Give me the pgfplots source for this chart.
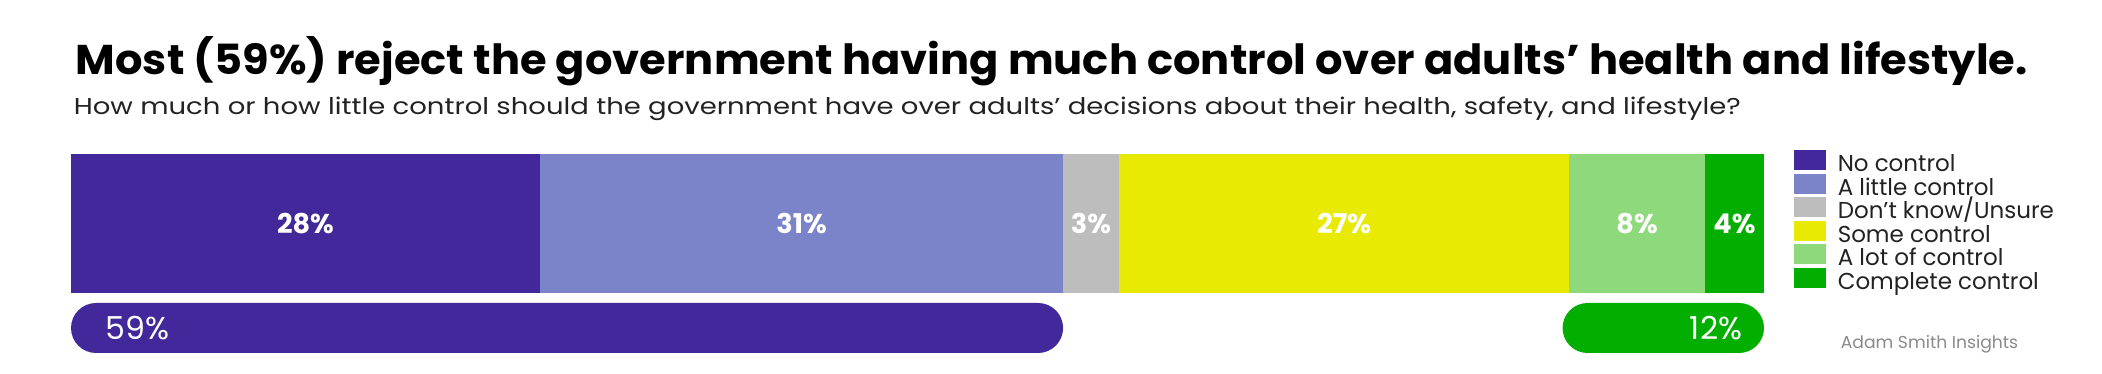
\documentclass[border=0pt]{standalone}
\usepackage{pgfplots}
\pgfplotsset{compat=1.18}
\usepackage{fontspec}
\setmainfont{Poppins}
\usepackage{graphicx}
\definecolor{cNo}{HTML}{43289B}
\definecolor{cLittle}{HTML}{7B84C9}
\definecolor{cDK}{HTML}{BDBDBD}
\definecolor{cSome}{HTML}{E9EA03}
\definecolor{cLot}{HTML}{8ED97B}
\definecolor{cComp}{HTML}{02AF00}
\definecolor{cText}{HTML}{222222}
\definecolor{cGray}{HTML}{8A8A8A}
\newlength\fitlen
\newcommand\fitto[2]{\settowidth{\fitlen}{#2}\pgfmathsetmacro\fitsx{#1/\fitlen}\scalebox{\fitsx}[1]{#2}}
\tikzset{lbl/.style={text=white, font=\fontsize{6.8pt}{8pt}\selectfont\bfseries},
  lbl2/.style={text=white, inner sep=0pt, font=\fontsize{7.9pt}{9pt}\selectfont}}
\begin{document}
\begin{tikzpicture}[x=0.25pt,y=0.25pt]
\path[use as bounding box] (0,0) rectangle (2102,374);
\node[anchor=base west, inner sep=0pt] at (75,299) {\fitto{488pt}{\fontsize{10.4pt}{12pt}\selectfont\bfseries Most (59\%) reject the government having much control over adults’ health and lifestyle.}};
\node[anchor=base west, inner sep=0pt, text=cText] at (73,259) {\fitto{416.75pt}{\fontsize{5.74pt}{7pt}\selectfont How much or how little control should the government have over adults’ decisions about their health, safety, and lifestyle?}};
\begin{axis}[at={(17.75pt,20.25pt)}, anchor=south west, scale only axis,
  width=423.25pt, height=34.75pt, xmin=0, xmax=100, ymin=-0.5, ymax=0.5,
  xbar stacked, bar width=1, hide axis, clip=false,
  legend cell align=left,
  legend image code/.code={\path (0pt,0pt) rectangle (8pt,0.5pt); \fill[#1, overlay] (0pt,-0.9pt) rectangle (8pt,4.1pt);},
  legend style={at={(1.0171,1.0)}, anchor=north west, draw=none, fill=none,
    inner sep=0pt, row sep=0pt, font=\fontsize{5.75pt}{5.9pt}\selectfont, text=cText,
    nodes={inner sep=0pt, outer sep=0pt, text height=4.3pt, text depth=1.575pt},
    /tikz/every odd column/.append style={column sep=3pt}}
]
\addplot[fill=cNo, draw=none] coordinates {(27.7,0)};
\addplot[fill=cLittle, draw=none] coordinates {(30.9,0)};
\addplot[fill=cDK, draw=none] coordinates {(3.3,0)};
\addplot[fill=cSome, draw=none] coordinates {(26.6,0)};
\addplot[fill=cLot, draw=none] coordinates {(8.0,0)};
\addplot[fill=cComp, draw=none] coordinates {(3.5,0)};
\legend{No control, A little control, Don’t know/Unsure, Some control, A lot of control, Complete control}
\coordinate (l1) at (axis cs:13.85,0);
\coordinate (l2) at (axis cs:43.15,0);
\coordinate (l3) at (axis cs:60.25,0);
\coordinate (l4) at (axis cs:75.2,0);
\coordinate (l5) at (axis cs:92.5,0);
\coordinate (l6) at (axis cs:98.25,0);
\end{axis}
\begin{axis}[at={(17.75pt,5.25pt)}, anchor=south west, scale only axis,
  width=423.25pt, height=12.5pt, xmin=0, xmax=100, ymin=-0.5, ymax=0.5,
  xbar stacked, bar width=1, hide axis, clip=false]
\addplot[fill=cNo, draw=none, rounded corners=6.25pt] coordinates {(58.6,0)};
\addplot[fill=none, draw=none] coordinates {(29.5,0)};
\addplot[fill=cComp, draw=none, rounded corners=6.25pt] coordinates {(11.9,0)};
\coordinate (m1) at (axis cs:2.0,0);
\coordinate (m2) at (axis cs:98.76,0);
\end{axis}
\node[lbl] at (l1) {28\%};
\node[lbl] at (l2) {31\%};
\node[lbl] at (l3) {3\%};
\node[lbl] at (l4) {27\%};
\node[lbl] at (l5) {8\%};
\node[lbl] at (l6) {4\%};
\node[lbl2, anchor=west] at (m1) {59\%};
\node[lbl2, anchor=east] at (m2) {12\%};
\node[anchor=base west, inner sep=0pt, text=cGray, font=\fontsize{4.3pt}{5pt}\selectfont] at (1840,25) {Adam Smith Insights};
\end{tikzpicture}
\end{document}
